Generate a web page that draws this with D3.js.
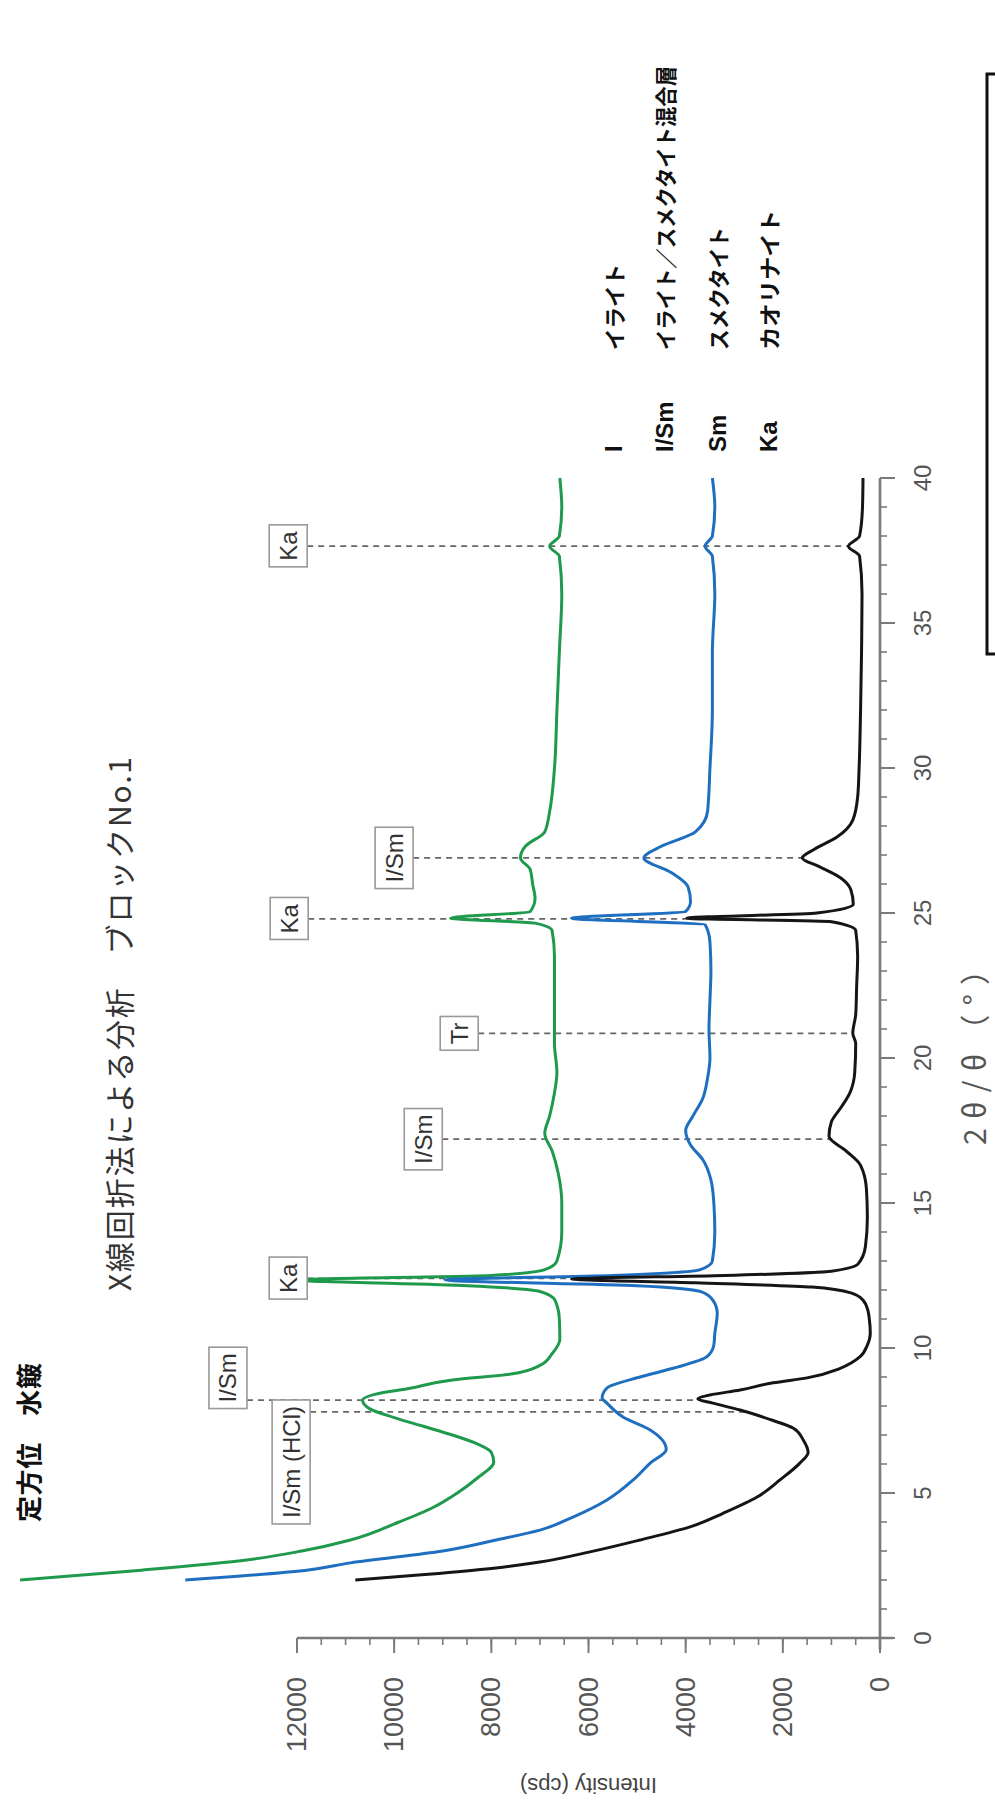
<!DOCTYPE html>
<html><head><meta charset="utf-8">
<script src="https://cdn.jsdelivr.net/npm/d3@7"></script>
<style>body{margin:0;background:#fff}svg{display:block}</style>
</head><body>
<svg id="chart" width="995" height="1800"></svg>
<script>
// ---------- data ----------
const xMajorTicks = [0,5,10,15,20,25,30,35,40];
const xMinorTicks = d3.range(0,41,1);
const yMajorTicks = [0,2000,4000,6000,8000,10000,12000];
const yMinorTicks = d3.range(0,12001,500);

const chartTitle = "X線回折法による分析\u3000ブロックNo.1";
const sampleNote = "定方位\u3000水簸";
const xTitle = "2θ/θ（°）";
const yTitle = "Intensity (cps)";

const legendCodes = ["I","I/Sm","Sm","Ka"];
const legendNames = ["イライト","イライト／スメクタイト混合層","スメクタイト","カオリナイト"];

// [2θ, cps]
const blackSeries = [[2.0,10800],[2.2,9300],[2.4,8000],[2.62,7000],[2.97,5970],[3.38,4940],[3.83,3910],[4.3,3230],[4.86,2530],[5.45,2060],[6.03,1650],[6.4,1480],[6.83,1580],[7.24,1790],[7.5,2200],[7.86,2880],[8.1,3440],[8.24,3750],[8.38,3500],[8.55,2880],[8.8,2200],[8.97,1500],[9.3,820],[9.7,410],[10.1,260],[10.5,200],[11.0,220],[11.3,250],[11.65,350],[11.9,600],[12.1,1400],[12.25,3800],[12.38,6350],[12.5,3200],[12.65,1000],[12.9,450],[13.5,300],[14.5,260],[15.5,280],[16.3,400],[16.8,700],[17.3,1050],[17.8,1000],[18.3,800],[18.8,620],[19.5,520],[20.5,500],[20.85,560],[21.5,500],[22.5,480],[23.5,460],[24.4,500],[24.7,1000],[24.82,3980],[25.0,1300],[25.3,550],[25.8,600],[26.2,800],[26.6,1250],[26.9,1600],[27.2,1350],[27.6,900],[28.2,560],[29,460],[30,430],[32,400],[34,380],[36,370],[37.3,420],[37.65,650],[38.0,420],[39,360],[40,350]];
const blueSeries = [[2.0,14300],[2.34,11800],[2.59,10900],[3.0,9000],[3.38,7900],[3.72,7000],[4.17,6320],[4.76,5620],[5.45,5080],[6.03,4730],[6.5,4400],[7.17,4730],[7.62,5290],[8.1,5620],[8.28,5720],[8.62,5620],[9.0,4940],[9.3,4260],[9.7,3560],[10.1,3420],[10.5,3400],[11.2,3350],[11.65,3440],[11.95,3700],[12.15,5000],[12.35,8960],[12.5,5500],[12.7,3700],[13,3450],[14,3400],[15,3420],[15.8,3480],[16.5,3650],[17.0,3900],[17.5,4000],[18.0,3850],[18.6,3650],[19.3,3550],[20,3500],[21,3520],[22,3500],[23,3480],[24,3500],[24.6,3600],[24.82,6350],[25.05,4000],[25.4,3900],[25.9,3950],[26.4,4300],[26.9,4860],[27.3,4500],[27.8,3800],[28.5,3550],[30,3500],[32,3450],[34,3450],[36,3400],[37.3,3450],[37.65,3600],[38.0,3450],[39,3400],[40,3450]];
const greenSeries = [[2.0,17700],[2.34,15200],[2.7,13000],[3.0,11900],[3.38,10900],[4.0,9900],[4.5,9200],[5.0,8700],[5.5,8300],[6.07,7950],[6.4,8000],[6.7,8300],[7.0,8800],[7.3,9400],[7.6,10000],[7.9,10500],[8.2,10650],[8.4,10400],[8.6,9700],[8.9,8800],[9.1,7600],[9.4,7000],[9.8,6750],[10.3,6590],[11.0,6600],[11.65,6690],[11.95,7000],[12.15,8500],[12.35,12000],[12.5,8000],[12.7,6900],[13,6650],[14,6550],[15,6550],[16,6620],[16.8,6750],[17.4,6900],[18.0,6800],[18.8,6700],[19.5,6650],[20.5,6700],[21.5,6700],[22.5,6700],[23.5,6700],[24.4,6750],[24.65,7100],[24.82,8840],[25.05,7200],[25.5,7100],[26,7150],[26.5,7200],[26.9,7400],[27.3,7300],[27.8,6900],[28.5,6800],[30,6700],[32,6650],[34,6600],[36,6550],[37.3,6600],[37.65,6800],[38.0,6600],[39,6550],[40,6590]];

const peakNames = ["Ka","I/Sm","Ka","Tr","I/Sm","Ka","I/Sm","I/Sm (HCl)"];
const peakAngles = [37.65,26.9,24.8,20.85,17.2,12.4,8.2,7.8];
// label box right edge, in cps units
const peakLabelLevel = [11790,9610,11770,8270,9010,11790,13030,11730];
// label box centre shift relative to peak, in 2θ units
const peakLabelShift = [0,0,0,0,0,0,0.77,-1.73];

// ---------- layout (logical, un-rotated frame) ----------
const svg = d3.select("#chart");
const g = svg.append("g").attr("transform","translate(0,1800) rotate(-90)");

const x = d3.scaleLinear().domain([0,40]).range([162,1322]);
const y = d3.scaleLinear().domain([0,12000]).range([880,297]);

const axisColor = "#7a7a7a";
const font = "'Liberation Sans', Arial, sans-serif";
const jfont = "'Noto Sans CJK JP', sans-serif";

// x axis (2θ)
const xg = g.append("g").attr("transform",`translate(0,${y(0)})`);
xg.append("line").attr("x1",x(0)-12).attr("x2",x(40)).attr("y1",0).attr("y2",0)
  .attr("stroke",axisColor).attr("stroke-width",2.6);
xg.selectAll("line.minor").data(xMinorTicks).join("line").attr("class","minor")
  .attr("x1",d=>x(d)).attr("x2",d=>x(d)).attr("y1",0).attr("y2",7)
  .attr("stroke",axisColor).attr("stroke-width",1.6);
xg.selectAll("line.major").data(xMajorTicks).join("line").attr("class","major")
  .attr("x1",d=>x(d)).attr("x2",d=>x(d)).attr("y1",0).attr("y2",15)
  .attr("stroke",axisColor).attr("stroke-width",2);
xg.selectAll("text").data(xMajorTicks).join("text")
  .attr("x",d=>x(d)).attr("y",42).attr("text-anchor","middle").attr("dominant-baseline","central")
  .attr("font-family",font).attr("font-size",24).attr("fill","#555").text(d=>d);

// y axis (intensity)
const yg = g.append("g").attr("transform",`translate(${x(0)},0)`);
yg.append("line").attr("x1",0).attr("x2",0).attr("y1",y(12000)).attr("y2",y(0)+13)
  .attr("stroke",axisColor).attr("stroke-width",2.6);
yg.selectAll("line.minor").data(yMinorTicks).join("line").attr("class","minor")
  .attr("x1",0).attr("x2",-7).attr("y1",d=>y(d)).attr("y2",d=>y(d))
  .attr("stroke",axisColor).attr("stroke-width",1.6);
yg.selectAll("line.major").data(yMajorTicks).join("line").attr("class","major")
  .attr("x1",0).attr("x2",-15).attr("y1",d=>y(d)).attr("y2",d=>y(d))
  .attr("stroke",axisColor).attr("stroke-width",2);
yg.selectAll("text").data(yMajorTicks).join("text")
  .attr("x",-39).attr("y",d=>y(d)).attr("text-anchor","end").attr("dominant-baseline","central")
  .attr("font-family",font).attr("font-size",27).attr("fill","#555").text(d=>d);

// axis titles
g.append("text").attr("x",x(20)+8).attr("y",973).attr("text-anchor","middle").attr("dominant-baseline","central")
  .attr("font-family",jfont).attr("font-size",30).attr("fill","#555")
  .attr("textLength",190).attr("lengthAdjust","spacing").text(xTitle);
g.append("text").attr("transform",`translate(15,${(y(0)+y(12000))/2}) rotate(-90)`)
  .attr("text-anchor","middle").attr("dominant-baseline","central")
  .attr("font-family",font).attr("font-size",22).attr("fill","#444").text(yTitle);

// chart title & note
g.append("text").attr("x",509).attr("y",118).attr("dominant-baseline","central")
  .attr("font-family",jfont).attr("font-size",30).attr("fill","#333")
  .attr("textLength",534).attr("lengthAdjust","spacing").text(chartTitle);
g.append("text").attr("x",278).attr("y",27).attr("dominant-baseline","central")
  .attr("font-family",jfont).attr("font-weight","bold").attr("font-size",26).attr("fill","#111")
  .attr("textLength",159).attr("lengthAdjust","spacing").text(sampleNote);

// legend
const legV = [613,664,717,768];
const legNameLen = [86,284,123,140];
legendCodes.forEach((c,i)=>{
  g.append("text").attr("x",1348).attr("y",legV[i]).attr("dominant-baseline","central")
    .attr("font-family",font).attr("font-weight","bold").attr("font-size",24).attr("fill","#111").text(c);
  g.append("text").attr("x",1450).attr("y",legV[i]).attr("dominant-baseline","central")
    .attr("font-family",jfont).attr("font-weight","bold").attr("font-size",22).attr("fill","#111")
    .attr("textLength",legNameLen[i]).attr("lengthAdjust","spacingAndGlyphs").text(legendNames[i]);
});
// frame at right edge
g.append("rect").attr("x",1800-654).attr("y",987).attr("width",654-74).attr("height",40)
  .attr("fill","none").attr("stroke","#111").attr("stroke-width",3);

// curves helpers
const line = d3.line().x(d=>x(d[0])).y(d=>y(d[1])).curve(d3.curveMonotoneX);
const bis = d3.bisector(d=>d[0]).left;
function valAt(series, t){
  const i = Math.max(1, Math.min(series.length-1, bis(series,t)));
  const a = series[i-1], b = series[i];
  return a[1] + (b[1]-a[1])*(t-a[0])/(b[0]-a[0]);
}

// peak markers (dashed lines)
const markG = g.append("g");
peakNames.forEach((name,i)=>{
  const t = peakAngles[i];
  const right = y(peakLabelLevel[i]);
  markG.append("line").attr("x1",x(t)).attr("x2",x(t)).attr("y1",right).attr("y2",y(valAt(blackSeries,t)))
    .attr("stroke","#666").attr("stroke-width",1.8).attr("stroke-dasharray","6,5");
});

const colors = {black:"#151515", blue:"#1f6fc0", green:"#1f9a4c"};
[[greenSeries,colors.green],[blueSeries,colors.blue],[blackSeries,colors.black]].forEach(([s,c])=>{
  g.append("path").datum(s).attr("d",line).attr("fill","none").attr("stroke",c)
    .attr("stroke-width",3).attr("stroke-linejoin","round");
});

// boxed labels
peakNames.forEach((name,i)=>{
  const t = peakAngles[i] + peakLabelShift[i];
  const right = y(peakLabelLevel[i]);
  const lg = g.append("g");
  const txt = lg.append("text").attr("x",x(t)).attr("y",right-19).attr("text-anchor","middle")
    .attr("dominant-baseline","central").attr("font-family",font).attr("font-size",24).attr("fill","#333").text(name);
  const bb = txt.node().getBBox();
  lg.insert("rect","text").attr("x",bb.x-6).attr("y",right-38).attr("width",bb.width+12).attr("height",38)
    .attr("fill","#fff").attr("stroke","#999").attr("stroke-width",1.6);
});
</script>
</body></html>
